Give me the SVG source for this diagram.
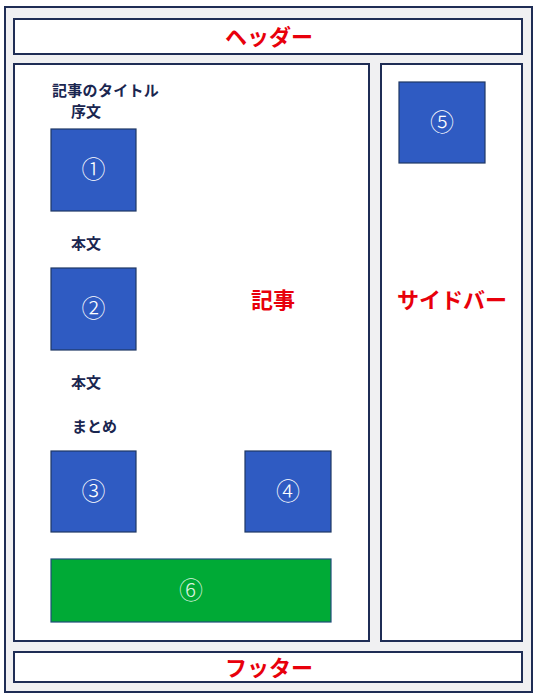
<svg xmlns="http://www.w3.org/2000/svg" width="540" height="700" viewBox="0 0 540 700">
<style>
.frame{fill:#FFFFFF;stroke:#1F2D55;stroke-width:2}
.outer{fill:#F0F0F2;stroke:#1F2D55;stroke-width:2}
.blue{fill:#2F5BC2;stroke:#1F3864;stroke-width:1.2}
.green{fill:#00AA36;stroke:#1F4E79;stroke-width:1.2}
.num{font-family:"Noto Sans CJK JP","Noto Sans",sans-serif;font-weight:300;font-size:24px;fill:#FFFFFF;text-anchor:middle}
.num6{font-family:"Noto Sans CJK JP","Noto Sans",sans-serif;font-weight:300;font-size:24px;fill:#D8F2DE;text-anchor:middle}
.red{font-family:"Noto Sans CJK JP",sans-serif;font-weight:bold;font-size:22px;fill:#E8000B;text-anchor:middle}
.lbl{font-family:"Noto Sans CJK JP",sans-serif;font-weight:bold;font-size:15px;fill:#1A2650}
</style>
<rect class="outer" x="5" y="7" width="527" height="685"/>
<g id="header">
<rect class="frame" x="14" y="19" width="508" height="35"/>
<text class="red" x="269" y="45">ヘッダー</text>
</g>
<g id="article">
<rect class="frame" x="14" y="64" width="355" height="577"/>
<text class="red" x="273" y="308">記事</text>
<text class="lbl" x="52" y="96" font-size="16" letter-spacing="0.3">記事のタイトル</text>
<text class="lbl" x="71" y="117">序文</text>
<text class="lbl" x="71" y="249">本文</text>
<text class="lbl" x="71" y="388">本文</text>
<text class="lbl" x="72" y="432">まとめ</text>
</g>
<g id="sidebar">
<rect class="frame" x="381" y="64" width="141" height="577"/>
<text class="red" x="452" y="308" font-size="23">サイドバー</text>
</g>
<g id="footer">
<rect class="frame" x="14" y="652" width="508" height="30"/>
<text class="red" x="269" y="676">フッター</text>
</g>
<g id="box1">
<rect class="blue" x="51" y="129" width="85" height="82"/>
<text class="num" x="93.5" y="178">①</text>
</g>
<g id="box2">
<rect class="blue" x="51" y="268" width="85" height="82"/>
<text class="num" x="93.5" y="317">②</text>
</g>
<g id="box3">
<rect class="blue" x="51" y="451" width="85" height="81"/>
<text class="num" x="93.5" y="500">③</text>
</g>
<g id="box4">
<rect class="blue" x="245" y="451" width="86" height="81"/>
<text class="num" x="288" y="500">④</text>
</g>
<g id="box5">
<rect class="blue" x="399" y="82" width="86" height="81"/>
<text class="num" x="442" y="131">⑤</text>
</g>
<g id="box6">
<rect class="green" x="51" y="559" width="280" height="63"/>
<text class="num6" x="191" y="599">⑥</text>
</g>
<g id="connectors"/>
</svg>
